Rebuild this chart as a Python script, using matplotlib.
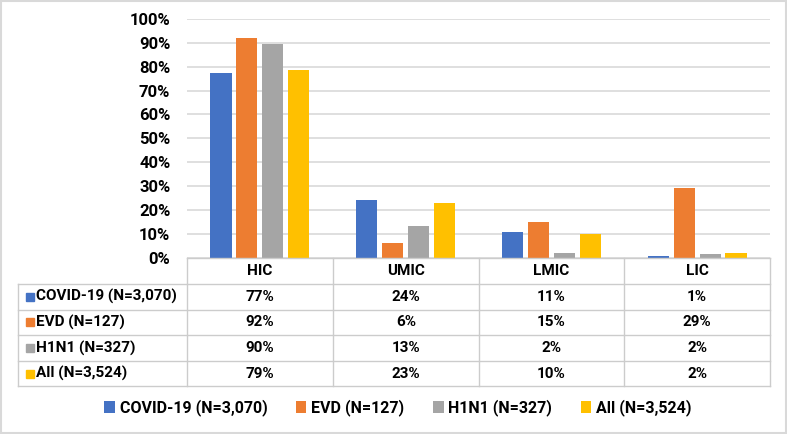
import matplotlib
matplotlib.use("Agg")
import matplotlib.pyplot as plt
from matplotlib.patches import Rectangle

plt.rcParams['font.family'] = ['Roboto', 'DejaVu Sans']
plt.rcParams['font.weight'] = 'bold'

categories = ['HIC', 'UMIC', 'LMIC', 'LIC']
series_names = ['COVID-19 (N=3,070)', 'EVD (N=127)', 'H1N1 (N=327)', 'All (N=3,524)']
covid = [77.3, 24.0, 10.6, 0.6]
evd = [92.0, 6.1, 14.8, 29.0]
h1n1 = [89.6, 13.3, 1.7, 1.6]
all_ = [78.6, 22.8, 9.8, 1.7]
series = [covid, evd, h1n1, all_]
colors = ['#4472C4', '#ED7D31', '#A5A5A5', '#FFC000']
yticks = list(range(0, 101, 10))

W, H = 787, 434
fig = plt.figure(figsize=(W / 100, H / 100), dpi=100)

# plot area in pixel terms
x0, x1, ytop, ybot = 187, 770, 19, 257.5
ax = fig.add_axes([x0 / W, 1 - ybot / H, (x1 - x0) / W, (ybot - ytop) / H])
step = 0.178
width = 0.145
bars = []
for i, (vals, c) in enumerate(zip(series, colors)):
    xs = [k + (i - 1.5) * step for k in range(len(categories))]
    b = ax.bar(xs, vals, width=width, color=c, zorder=3, label=series_names[i])
    bars.append(b)
ax.set_xlim(-0.5, len(categories) - 0.5)
ax.set_ylim(0, 100)
ax.set_yticks(yticks)
ax.set_yticklabels([f'{t}%' for t in yticks], fontsize=12, fontweight='bold')
ax.set_xticks([])
ax.grid(axis='y', color='#d9d9d9', linewidth=1.2, zorder=0)
for s in ax.spines.values():
    s.set_visible(False)
ax.tick_params(axis='y', length=0, pad=12)

# data table drawn in pixel coordinates
tax = fig.add_axes([0, 0, 1, 1])
tax.set_xlim(0, W)
tax.set_ylim(H, 0)
tax.axis('off')
col_edges = [18, 187, 333, 479, 624, 770]
row_edges = [258, 284, 309.5, 335, 361, 386]
lc = '#cccccc'
tax.plot([col_edges[1], col_edges[-1]], [row_edges[0]] * 2, color=lc, lw=1)
for y in row_edges[1:]:
    tax.plot([col_edges[0], col_edges[-1]], [y, y], color=lc, lw=1)
for j, x in enumerate(col_edges):
    top = row_edges[0] if j > 0 else row_edges[1]
    tax.plot([x, x], [top, row_edges[-1]], color=lc, lw=1)
fs = 11
for k, cat in enumerate(categories):
    cx = (col_edges[k + 1] + col_edges[k + 2]) / 2
    tax.text(cx, (row_edges[0] + row_edges[1]) / 2, cat, ha='center', va='center', fontsize=fs)
for i, name in enumerate(series_names):
    cy = (row_edges[i + 1] + row_edges[i + 2]) / 2
    tax.add_patch(Rectangle((26, cy - 4), 8, 8, color=colors[i]))
    tax.text(36, cy, name, ha='left', va='center', fontsize=fs)
    for k in range(len(categories)):
        cx = (col_edges[k + 1] + col_edges[k + 2]) / 2
        tax.text(cx, cy, f'{series[i][k]:.0f}%', ha='center', va='center', fontsize=fs)

# outer border
tax.add_patch(Rectangle((0.5, 0.5), W - 1.5, H - 1.5, fill=False, edgecolor='#d9d9d9', lw=1.5))

fig.legend(handles=bars, labels=series_names, loc='center', bbox_to_anchor=(398 / W, 1 - 408 / H),
           ncol=4, frameon=False, handlelength=0.65, handleheight=0.8,
           handletextpad=0.3, columnspacing=1.8, prop={'weight': 'bold', 'size': 11.5})

fig.savefig('out.png', dpi=100)
